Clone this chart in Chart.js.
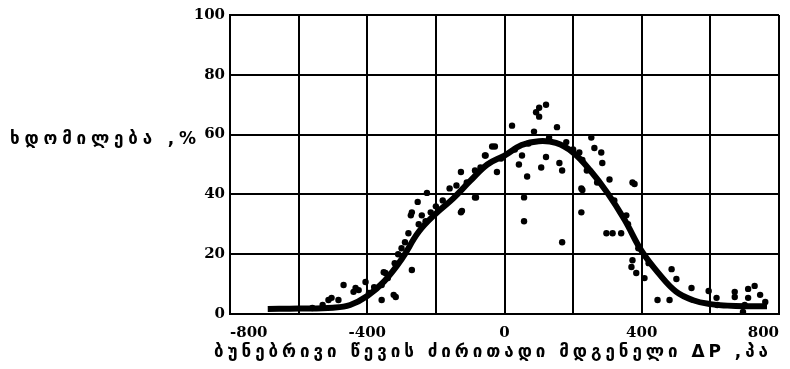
<!DOCTYPE html>
<html>
<head>
<meta charset="utf-8">
<script src="https://cdn.jsdelivr.net/npm/chart.js@4.4.0/dist/chart.umd.min.js"></script>
<style>
    html, body { margin: 0; padding: 0; background: #fff; }
    #wrap { width: 790px; height: 369px; }
</style>
</head>
<body>
<div id="wrap"><canvas id="chart" width="790" height="369"></canvas></div>
<script>
// tick labels
const xTicks = [-800, -400, 0, 400, 800];
const yTicks = [0, 20, 40, 60, 80, 100];

// fitted curve
const curveX = [-690, -600, -500, -450, -400, -350, -300, -250, -200, -150, -100, -50, 0, 50, 100, 150, 200, 250, 300, 350, 400, 450, 500, 550, 600, 650, 700, 765];
const curveY = [1.7, 1.8, 2.1, 3, 6, 11, 18.3, 27.5, 33.6, 38.6, 44.5, 50, 53, 56.5, 57.8, 57.2, 54, 48, 40.5, 31.5, 21, 13.5, 7.5, 4.6, 3.3, 2.8, 2.6, 2.6];

// measured points
const dotsX = [-560, -530, -513, -484, -504, -469, -440, -434, -425, -405, -395, -380, -358, -358, -352, -347, -340, -323, -317, -320, -310, -300, -290, -280, -270, -273, -270, -253, -250, -241, -226, -230, -215, -200, -180, -160, -140, -127, -127, -124, -110, -86, -86, -83, -70, -57, -55, -36, -28, -22, -10,
    22, 30, 42, 51, 57, 57, 66, 70, 86, 92, 101, 101, 107, 121, 121, 130, 153, 160, 168, 168, 180, 200, 218, 224, 224, 227, 227, 240, 253, 262, 270, 282, 285, 297, 306, 315, 320, 340, 355, 360, 373, 379, 373, 370, 384, 390, 408, 420, 446, 481, 487, 501, 545, 595, 618, 620, 671, 671, 695, 700, 710, 710, 729, 745, 760];
const dotsY = [2, 3, 4.7, 4.7, 5.4, 9.7, 7.4, 8.7, 8, 10.7, 7, 9, 9.7, 4.7, 14, 13.7, 12, 6.4, 5.7, 17, 20, 22, 24, 27, 14.7, 33, 34, 37.5, 30, 33, 40.5, 31, 34, 36, 38, 42, 43, 47.5, 34, 34.5, 44, 48, 39, 39, 49, 53, 53, 56, 56, 47.5, 52,
    63, 55, 50, 53, 39, 31, 46, 57, 61, 67.5, 69, 66, 49, 70, 52.5, 59, 62.5, 50.5, 48, 24, 57.5, 55, 54, 42, 34, 51.5, 41.5, 48, 59, 55.5, 44, 54, 50.5, 27, 45, 27, 38, 27, 33, 30, 44, 43.5, 18, 15.7, 13.7, 22, 12, 17, 4.7, 4.7, 15, 11.7, 8.7, 7.7, 5.4, 3, 7.4, 5.7, 0.7, 3, 8.4, 5.4, 9.4, 6.4, 4];

const yTitle = 'ხდომილება ,%';
const xTitle = 'ბუნებრივი წევის ძირითადი მდგენელი ΔP ,პა';

const georgianFont = 'bold 17px "DejaVu Sans", "Noto Sans", sans-serif';

// text stretched to the width it takes in the scan
function spacedText(ctx, text, left, right, y) {
    ctx.letterSpacing = '0px';
    const w = ctx.measureText(text).width;
    const gap = Math.max(0, (right - left - w) / (text.length - 1));
    ctx.letterSpacing = gap + 'px';
    ctx.fillText(text, left, y);
    ctx.letterSpacing = '0px';
}

const titles = {
    id: 'titles',
    afterDraw(chart) {
        const ctx = chart.ctx;
        ctx.save();
        ctx.fillStyle = '#000';
        ctx.font = georgianFont;
        ctx.textBaseline = 'middle';
        ctx.textAlign = 'left';
        spacedText(ctx, yTitle, 10, 196, 140);
        spacedText(ctx, xTitle, 214, 768, 353);
        ctx.restore();
    }
};

const tickFont = {family: '"DejaVu Serif", serif', size: 15, weight: 'bold'};

new Chart(document.getElementById('chart'), {
    type: 'scatter',
    data: {
        datasets: [
            {
                data: curveX.map((x, i) => ({x: x, y: curveY[i]})),
                showLine: true,
                borderColor: '#000',
                borderWidth: 6,
                pointRadius: 0,
                tension: 0.4,
                fill: false
            },
            {
                data: dotsX.map((x, i) => ({x: x, y: dotsY[i]})),
                pointRadius: 3.2,
                backgroundColor: '#000',
                borderWidth: 0
            }
        ]
    },
    options: {
        responsive: false,
        animation: false,
        devicePixelRatio: 1,
        layout: {padding: {top: 15, right: 11, left: 0, bottom: 0}},
        plugins: {legend: {display: false}, tooltip: {enabled: false}},
        scales: {
            x: {
                min: -800, max: 800,
                afterFit: s => { s.height = 55; },
                grid: {color: '#000', lineWidth: 2, drawTicks: false},
                border: {color: '#000', width: 2},
                ticks: {
                    stepSize: 200,
                    color: '#000',
                    font: tickFont,
                    padding: 10,
                    align: 'inner',
                    maxRotation: 0,
                    autoSkip: false,
                    callback: v => xTicks.includes(v) ? String(v) : ''
                }
            },
            y: {
                min: 0, max: 100,
                afterFit: s => { s.width = 230; },
                grid: {color: '#000', lineWidth: 2, drawTicks: false},
                border: {color: '#000', width: 2},
                ticks: {
                    stepSize: 20,
                    color: '#000',
                    font: tickFont,
                    padding: 5,
                    callback: v => yTicks.includes(v) ? String(v) : ''
                }
            }
        }
    },
    plugins: [titles]
});
</script>
</body>
</html>
